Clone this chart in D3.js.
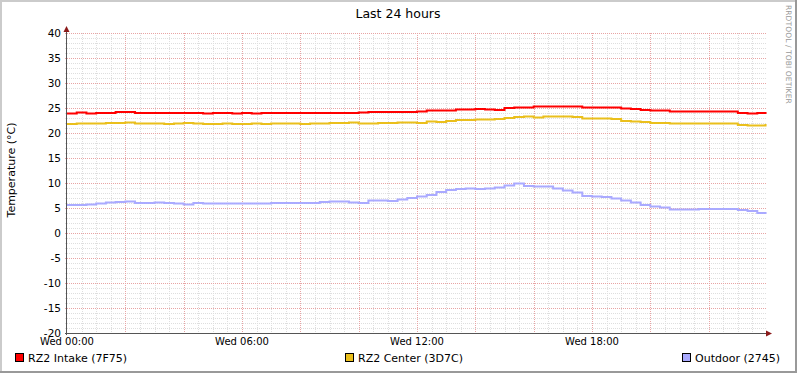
<!DOCTYPE html>
<html>
<head>
<meta charset="utf-8">
<script src="https://cdn.jsdelivr.net/npm/d3@7"></script>
<style>
  body { margin: 0; background: #fff; }
  svg { display: block; font-family: "DejaVu Sans", sans-serif; }
</style>
</head>
<body>
<svg id="chart" width="797" height="373"></svg>
<script>
// one reading every 20 minutes, from Wed 00:00
const MINUTES = [
  0, 20, 40, 60, 80, 100, 120, 140, 160, 180, 200, 220, 240, 260, 280, 300, 320, 340,
  360, 380, 400, 420, 440, 460, 480, 500, 520, 540, 560, 580, 600, 620, 640, 660, 680, 700,
  720, 740, 760, 780, 800, 820, 840, 860, 880, 900, 920, 940, 960, 980, 1000, 1020, 1040, 1060,
  1080, 1100, 1120, 1140, 1160, 1180, 1200, 1220, 1240, 1260, 1280, 1300, 1320, 1340, 1360, 1380,
  1400, 1420, 1437
];
const INTAKE = [
  23.9, 24.1, 23.9, 24.0, 24.0, 24.2, 24.2, 24.0, 24.0, 24.0, 24.0, 24.0, 24.0, 24.0, 23.9, 24.0, 24.0, 23.9,
  24.0, 23.9, 24.0, 24.0, 24.0, 24.0, 24.0, 24.0, 24.0, 24.0, 24.0, 24.0, 24.1, 24.2, 24.2, 24.2, 24.2, 24.2,
  24.3, 24.5, 24.5, 24.5, 24.7, 24.7, 24.8, 24.7, 24.6, 25.0, 25.1, 25.1, 25.3, 25.3, 25.3, 25.3, 25.3, 25.1,
  25.1, 25.1, 25.1, 24.9, 24.8, 24.6, 24.5, 24.5, 24.3, 24.3, 24.3, 24.3, 24.3, 24.3, 24.3, 24.0,
  23.9, 24.0, 23.8
];
const CENTER = [
  21.8, 21.9, 21.9, 21.9, 22.0, 22.0, 22.1, 21.9, 21.9, 21.9, 21.8, 21.9, 22.0, 21.9, 21.8, 21.8, 21.9, 21.8,
  21.8, 21.9, 21.8, 21.9, 21.9, 21.9, 21.8, 21.9, 21.9, 22.0, 22.0, 22.1, 21.9, 21.9, 22.0, 22.0, 22.1, 22.1,
  22.0, 22.3, 22.2, 22.4, 22.6, 22.6, 22.7, 22.7, 22.8, 23.0, 23.2, 23.3, 23.1, 23.3, 23.3, 23.3, 23.2, 22.9,
  22.9, 22.9, 22.8, 22.4, 22.3, 22.2, 22.0, 22.0, 21.9, 21.9, 21.9, 21.9, 21.9, 21.9, 21.9, 21.6,
  21.5, 21.5, 21.8
];
const OUTDOOR = [
  5.6, 5.6, 5.7, 5.9, 6.1, 6.2, 6.3, 6.0, 6.0, 6.1, 6.0, 5.9, 5.7, 6.0, 5.9, 5.9, 5.9, 5.9,
  5.9, 5.9, 5.9, 6.0, 6.0, 6.0, 6.0, 6.0, 6.2, 6.3, 6.3, 6.1, 6.0, 6.5, 6.5, 6.4, 6.7, 7.0,
  7.3, 7.6, 8.2, 8.6, 8.8, 8.9, 8.8, 8.9, 9.1, 9.5, 9.9, 9.4, 9.3, 9.3, 8.9, 8.5, 8.1, 7.4,
  7.3, 7.2, 6.9, 6.5, 6.1, 5.6, 5.3, 5.1, 4.7, 4.7, 4.7, 4.8, 4.8, 4.8, 4.8, 4.6,
  4.4, 4.0, 3.8
];
const SERIES = [
  { name: "RZ2 Intake (7F75)", values: INTAKE, color: "#ff0000", lx: 15 },
  { name: "RZ2 Center (3D7C)", values: CENTER, color: "#eabf1c", lx: 345 },
  { name: "Outdoor (2745)", values: OUTDOOR, color: "#aaaaff", lx: 682 }
];
const X_LABELS = [0, 360, 720, 1080];
const Y_TICKS = d3.range(-20, 41, 5);

const W = 797, H = 373;
const plotL = 67, plotR = 767, plotT = 33, plotB = 333;

const svg = d3.select("#chart");

// frame (rrdtool 3d border)
svg.append("rect").attr("width", W).attr("height", H).attr("fill", "#fff");
svg.append("path").attr("d", `M0,0H${W}V2H2V${H}H0Z`).attr("fill", "#cbcbcb");
svg.append("path").attr("d", `M${W},${H}H0V${H - 2}H${W - 2}V0H${W}Z`).attr("fill", "#999");

const x = d3.scaleLinear().domain([0, 1440]).range([plotL, plotR]);
const y = d3.scaleLinear().domain([-20, 40]).range([plotB, plotT]);

// grid
const grid = svg.append("g").attr("shape-rendering", "crispEdges");
d3.range(-20, 41, 1).filter(v => v % 5 !== 0).forEach(v => {
  grid.append("line").attr("x1", plotL - 2).attr("x2", plotR)
    .attr("y1", Math.round(y(v)) + 0.5).attr("y2", Math.round(y(v)) + 0.5)
    .attr("stroke", "#dedede").attr("stroke-dasharray", "1,1");
});
d3.range(30, 1440, 30).filter(m => m % 120 !== 0).forEach(m => {
  grid.append("line").attr("y1", plotT).attr("y2", plotB + 2)
    .attr("x1", Math.round(x(m)) + 0.5).attr("x2", Math.round(x(m)) + 0.5)
    .attr("stroke", "#dedede").attr("stroke-dasharray", "1,1");
});
Y_TICKS.forEach(v => {
  grid.append("line").attr("x1", plotL - 2).attr("x2", plotR)
    .attr("y1", Math.round(y(v)) + 0.5).attr("y2", Math.round(y(v)) + 0.5)
    .attr("stroke", "#e8a4a4").attr("stroke-dasharray", "1,1");
});
d3.range(120, 1440, 120).forEach(m => {
  grid.append("line").attr("y1", plotT).attr("y2", plotB + 2)
    .attr("x1", Math.round(x(m)) + 0.5).attr("x2", Math.round(x(m)) + 0.5)
    .attr("stroke", "#e8a4a4").attr("stroke-dasharray", "1,1");
});

// data lines
const line = d3.line().x((d, i) => x(MINUTES[i])).y(d => y(d)).curve(d3.curveStepAfter);
SERIES.forEach(s => {
  svg.append("path").datum(s.values)
    .attr("d", line).attr("fill", "none")
    .attr("stroke", s.color).attr("stroke-width", 2);
});

// axes
const axes = svg.append("g").attr("shape-rendering", "crispEdges");
axes.append("line").attr("x1", plotL - 0.5).attr("x2", plotL - 0.5).attr("y1", plotT - 4).attr("y2", plotB + 2)
  .attr("stroke", "#555");
axes.append("line").attr("x1", plotL - 2).attr("x2", plotR + 2).attr("y1", plotB + 0.5).attr("y2", plotB + 0.5)
  .attr("stroke", "#555");
svg.append("path").attr("d", `M${plotL - 3.5},${plotT - 1}L${plotL - 0.5},${plotT - 7}L${plotL + 2.5},${plotT - 1}Z`).attr("fill", "#8b1a1a");
svg.append("path").attr("d", `M${plotR - 1},${plotB - 2.5}L${plotR + 5},${plotB + 0.5}L${plotR - 1},${plotB + 3.5}Z`).attr("fill", "#8b1a1a");

// tick labels
svg.append("g").selectAll("text").data(Y_TICKS).join("text")
  .attr("x", plotL - 6).attr("y", d => y(d) + 4)
  .attr("text-anchor", "end").attr("font-size", 10.5).attr("fill", "#000")
  .text(d => d);
svg.append("g").selectAll("text").data(X_LABELS).join("text")
  .attr("x", d => x(d)).attr("y", plotB + 12)
  .attr("text-anchor", "middle").attr("font-size", 10).attr("fill", "#000")
  .text(d => "Wed " + d3.format("02")(d / 60) + ":00");

// title, y label, watermark
svg.append("text").attr("x", 398).attr("y", 18).attr("text-anchor", "middle")
  .attr("font-size", 12.5).text("Last 24 hours");
svg.append("text").attr("transform", "translate(15,170) rotate(-90)")
  .attr("text-anchor", "middle").attr("font-size", 11).text("Temperature (°C)");
svg.append("text").attr("transform", "translate(786,5) rotate(90)")
  .attr("font-size", 7.5).attr("fill", "#999").attr("letter-spacing", 0.1)
  .text("RRDTOOL / TOBI OETIKER");

// legend
const legend = svg.append("g");
SERIES.forEach(s => {
  legend.append("rect").attr("x", s.lx + 0.5).attr("y", 353.5).attr("width", 8).attr("height", 8)
    .attr("fill", s.color).attr("stroke", "#000").attr("shape-rendering", "crispEdges");
  legend.append("text").attr("x", s.lx + 13).attr("y", 362).attr("font-size", 11).text(s.name);
});
</script>
</body>
</html>
